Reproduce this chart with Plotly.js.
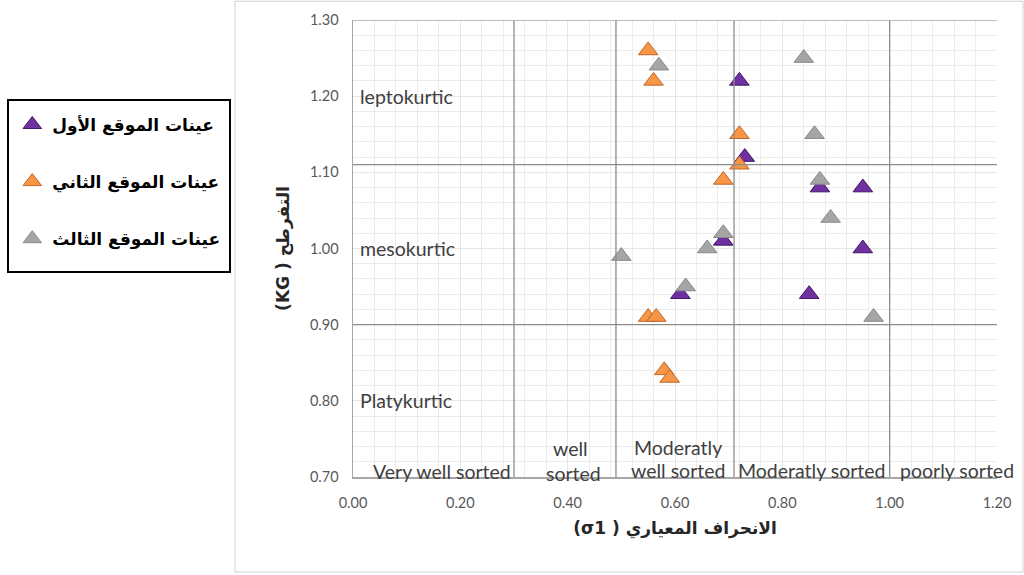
<!DOCTYPE html>
<html>
<head>
<meta charset="utf-8">
<script src="https://cdn.plot.ly/plotly-3.0.1.min.js"></script>
<style>html,body{margin:0;padding:0;background:#fff;}#chart{width:1024px;height:575px;}</style>
</head>
<body>
<div id="chart"></div>
<script>
// Site 1 (purple)
const site1X = [0.72, 0.73, 0.87, 0.95, 0.69, 0.95, 0.61, 0.85];
const site1Y = [1.22, 1.12, 1.08, 1.08, 1.01, 1.00, 0.94, 0.94];
// Site 2 (orange)
const site2X = [0.55, 0.56, 0.72, 0.72, 0.69, 0.55, 0.565, 0.58, 0.59];
const site2Y = [1.26, 1.22, 1.15, 1.11, 1.09, 0.91, 0.91, 0.84, 0.83];
// Site 3 (gray)
const site3X = [0.84, 0.57, 0.86, 0.87, 0.89, 0.69, 0.66, 0.50, 0.62, 0.97];
const site3Y = [1.25, 1.24, 1.15, 1.09, 1.04, 1.02, 1.00, 0.99, 0.95, 0.91];

const seriesNames = ['عينات الموقع الأول', 'عينات الموقع الثاني', 'عينات الموقع الثالث'];
const seriesColors = ['#7030a0', '#f79646', '#a5a5a5'];
const seriesEdge = ['#3f1566', '#c0652a', '#8a8a8a'];

const xTickVals = [0, 0.2, 0.4, 0.6, 0.8, 1.0, 1.2];
const xTickText = ['0.00', '0.20', '0.40', '0.60', '0.80', '1.00', '1.20'];
const yTickVals = [0.7, 0.8, 0.9, 1.0, 1.1, 1.2, 1.3];
const yTickText = ['0.70', '0.80', '0.90', '1.00', '1.10', '1.20', '1.30'];

// class boundaries
const sortingBounds = [0.30, 0.49, 0.71, 1.00];
const kurtosisBounds = [0.90, 1.11];

const kurtLabels = ['leptokurtic', 'mesokurtic', 'Platykurtic'];
const kurtLabelY = [1.20, 1.00, 0.80];

const sortLabels = [
  {t: 'Very well sorted', x: 0.165, y: 0.707},
  {t: 'well', x: 0.405, y: 0.737},
  {t: 'sorted', x: 0.41, y: 0.704},
  {t: 'Moderatly', x: 0.605, y: 0.739},
  {t: 'well sorted', x: 0.605, y: 0.709},
  {t: 'Moderatly sorted', x: 0.855, y: 0.709},
  {t: 'poorly sorted', x: 1.125, y: 0.709}
];

const xTitle = '\u202Bالانحراف المعياري ( σ1)\u202C';
const yTitle = '\u202Bالتفرطح ( KG)\u202C';

const xs = [site1X, site2X, site3X];
const ys = [site1Y, site2Y, site3Y];
const traces = [0,1,2].map(i => ({
  type: 'scatter', mode: 'markers',
  x: xs[i], y: ys[i], name: seriesNames[i], legendgroup: 'g' + i,
  marker: {symbol: 'triangle-up', size: 17, color: seriesColors[i], line: {color: seriesEdge[i], width: 1}},
  hoverinfo: 'x+y'
}));

const shapes = [];
// outer chart frame
shapes.push({type:'rect', xref:'paper', yref:'paper', x0:-0.1832, x1:1.0404, y0:-0.208, y1:1.041, line:{color:'#d0d0d0', width:1}, fillcolor:'rgba(0,0,0,0)', layer:'below'});
// legend frame
shapes.push({type:'rect', xref:'paper', yref:'paper', x0:-0.5357, x1:-0.191, y0:0.4486, y1:0.825, line:{color:'#000000', width:2}, fillcolor:'rgba(0,0,0,0)', layer:'above'});
sortingBounds.forEach(v => shapes.push({type:'line', xref:'x', yref:'paper', x0:v, x1:v, y0:0, y1:1, line:{color:'#8c8c8c', width:1.3}}));
kurtosisBounds.forEach(v => shapes.push({type:'line', xref:'paper', yref:'y', x0:0, x1:1, y0:v, y1:v, line:{color:'#8c8c8c', width:1.3}}));
shapes.push({type:'line', xref:'paper', yref:'y', x0:0, x1:1, y0:1.3, y1:1.3, line:{color:'#a6a6a6', width:1.5}});

const labelFont = {family:'Lato, Open Sans, sans-serif', size:19.5, color:'#404040'};
const annotations = [];
kurtLabels.forEach((t, i) => annotations.push({x:0.01, y:kurtLabelY[i], xref:'x', yref:'y', text:t, showarrow:false, xanchor:'left', yanchor:'middle', font:labelFont}));
sortLabels.forEach(o => annotations.push({x:o.x, y:o.y, xref:'x', yref:'y', text:o.t, showarrow:false, xanchor:'center', yanchor:'middle', font:labelFont}));

const layout = {
  width: 1024, height: 575,
  margin: {l: 353, r: 27, t: 20, b: 98},
  paper_bgcolor: '#ffffff', plot_bgcolor: '#ffffff',
  showlegend: true,
  legend: {
    xref: 'container', yref: 'container', x: 0.012, y: 0.814, xanchor: 'left', yanchor: 'top',
    borderwidth: 0, bgcolor: 'rgba(255,255,255,0)',
    font: {family: 'DejaVu Sans, sans-serif', size: 17, color: '#000000', weight: 'bold'},
    itemwidth: 30, tracegroupgap: 32, traceorder: 'grouped'
  },
  xaxis: {
    range: [0, 1.2], tickvals: xTickVals, ticktext: xTickText,
    showgrid: true, gridcolor: '#e6e6e6', gridwidth: 1,
    minor: {dtick: 0.04, showgrid: true, gridcolor: '#ececec', gridwidth: 1},
    zeroline: false, showline: true, linecolor: '#a6a6a6', linewidth: 1.5,
    ticks: 'outside', ticklen: 12, tickcolor: 'rgba(0,0,0,0)',
    tickfont: {family: 'Lato, Open Sans, sans-serif', size: 14.5, color: '#595959'},
    title: {text: xTitle, standoff: 12, font: {family: 'DejaVu Sans, sans-serif', size: 17, color: '#262626', weight: 'bold'}}
  },
  yaxis: {
    range: [0.7, 1.3], tickvals: yTickVals, ticktext: yTickText,
    showgrid: true, gridcolor: '#e6e6e6', gridwidth: 1,
    minor: {dtick: 0.02, showgrid: true, gridcolor: '#ececec', gridwidth: 1},
    zeroline: false, showline: true, linecolor: '#a6a6a6', linewidth: 1.5,
    ticks: 'outside', ticklen: 10, tickcolor: 'rgba(0,0,0,0)',
    tickfont: {family: 'Lato, Open Sans, sans-serif', size: 14.5, color: '#595959'},
    title: {text: yTitle, standoff: 16, font: {family: 'DejaVu Sans, sans-serif', size: 17, color: '#262626', weight: 'bold'}}
  },
  shapes: shapes,
  annotations: annotations
};

Plotly.newPlot('chart', traces, layout, {displayModeBar: false, staticPlot: true});
</script>
</body>
</html>
